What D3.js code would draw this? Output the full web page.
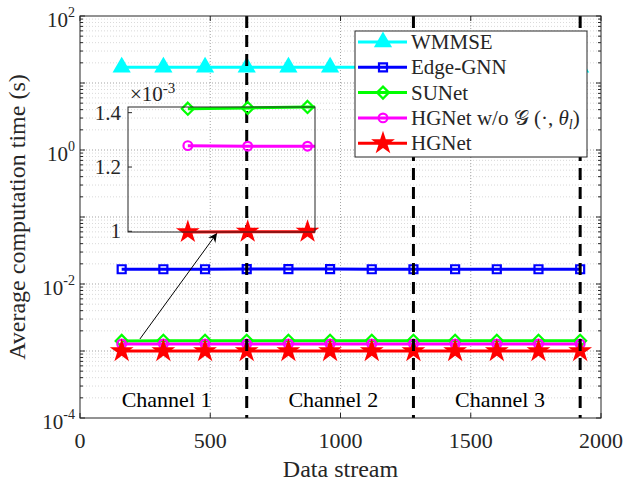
<!DOCTYPE html>
<html lang="en">
<head>
<meta charset="UTF-8">
<title>Average computation time vs data stream</title>
<script src="https://d3js.org/d3.v7.min.js"></script>
<style>
  body { margin: 0; background: #fff; }
  text { font-family: "Liberation Serif", "Times New Roman", serif; fill: #262626; }
</style>
</head>
<body>
<div id="chart"></div>
<script>

// data
var streamX   = [160, 320, 480, 640, 800, 960, 1120, 1280, 1440, 1600, 1760, 1920];
var wmmse     = [17.2, 17.2, 17.2, 17.2, 17.2, 17.2, 17.2, 17.2, 17.2, 17.2, 17.2, 17.2];
var edgeGnn   = [0.0166, 0.0166, 0.0166, 0.0167, 0.0167, 0.0167, 0.0166, 0.0166, 0.0166, 0.0166, 0.0166, 0.0166];
var sunet     = [1.416e-3, 1.419e-3, 1.423e-3, 1.422e-3, 1.421e-3, 1.422e-3, 1.421e-3, 1.420e-3, 1.421e-3, 1.421e-3, 1.420e-3, 1.421e-3];
var hgnetWo   = [1.275e-3, 1.273e-3, 1.273e-3, 1.273e-3, 1.274e-3, 1.273e-3, 1.273e-3, 1.274e-3, 1.273e-3, 1.273e-3, 1.273e-3, 1.273e-3];
var hgnet     = [0.998e-3, 0.999e-3, 0.999e-3, 0.999e-3, 0.999e-3, 0.999e-3, 0.999e-3, 0.999e-3, 0.999e-3, 0.999e-3, 0.999e-3, 0.999e-3];
var seriesNames = ["WMMSE", "Edge-GNN", "SUNet", "HGNet w/o", "HGNet"];
var xTicks = [0, 500, 1000, 1500, 2000];
var yTickExp = [2, 0, -2, -4];
var channelBounds = [640, 1280, 1920];
var channelLabels = ["Channel 1", "Channel 2", "Channel 3"];
var channelLabelX = [160, 800, 1440];
var insetTicks = [1e-3, 1.2e-3, 1.4e-3];
var insetTickLabels = ["1", "1.2", "1.4"];
var arrowFrom = [230, 1.51e-3], arrowTo = [526, 0.0577];

var W = 626, H = 483;
var margin = {top: 16, right: 25, bottom: 65, left: 80};
var width = W - margin.left - margin.right;
var height = H - margin.top - margin.bottom;

var svg = d3.select("#chart").append("svg")
    .attr("width", W).attr("height", H);

var g = svg.append("g").attr("transform", "translate(" + margin.left + "," + margin.top + ")");

var x = d3.scaleLinear().domain([0, 2000]).range([0, width]);
var y = d3.scaleLog().domain([1e-4, 1e2]).range([height, 0]);

var series = [
  {name: seriesNames[0], vals: wmmse,   color: "#00ffff", shape: "tri",     fill: true},
  {name: seriesNames[1], vals: edgeGnn, color: "#0000ff", shape: "square",  fill: false},
  {name: seriesNames[2], vals: sunet,   color: "#00ff00", shape: "diamond", fill: false},
  {name: seriesNames[3], vals: hgnetWo, color: "#ff00ff", shape: "circle",  fill: false},
  {name: seriesNames[4], vals: hgnet,   color: "#ff0000", shape: "star",    fill: true}
];

// marker shapes
function markerPath(shape) {
  if (shape == "tri") return d3.symbol(d3.symbolTriangle, 90)();
  if (shape == "square") return d3.symbol(d3.symbolSquare, 64)();
  if (shape == "circle") return d3.symbol(d3.symbolCircle, 60)();
  if (shape == "star") return d3.symbol(d3.symbolStar, 90)();
  if (shape == "diamond") return "M0,-6L6,0L0,6L-6,0Z";
}

// minor grid
var minorVals = [];
for (var e = -4; e < 2; e++) for (var m = 2; m <= 9; m++) minorVals.push(m * Math.pow(10, e));

g.append("g").selectAll("line").data(minorVals).join("line")
    .attr("x1", 0).attr("x2", width)
    .attr("y1", d => y(d)).attr("y2", d => y(d))
    .attr("stroke", "#c8c8c8").attr("stroke-width", 0.7).attr("stroke-dasharray", "1,2");

g.append("g").selectAll("line").data(d3.range(-3, 2)).join("line")
    .attr("x1", 0).attr("x2", width)
    .attr("y1", d => y(Math.pow(10, d))).attr("y2", d => y(Math.pow(10, d)))
    .attr("stroke", "#999").attr("stroke-width", 0.9).attr("stroke-dasharray", "1,2");

g.append("g").selectAll("line").data(xTicks.slice(1, -1)).join("line")
    .attr("x1", d => x(d)).attr("x2", d => x(d))
    .attr("y1", 0).attr("y2", height)
    .attr("stroke", "#999").attr("stroke-width", 0.9).attr("stroke-dasharray", "1,2");

// series
var line = d3.line().x((d, i) => x(streamX[i])).y(d => y(d));

series.forEach(function(s) {
  g.append("path").datum(s.vals)
    .attr("d", line)
    .attr("fill", "none").attr("stroke", s.color).attr("stroke-width", 3);
  g.append("g").selectAll("path").data(s.vals).join("path")
    .attr("transform", (d, i) => "translate(" + x(streamX[i]) + "," + y(d) + ")")
    .attr("d", markerPath(s.shape))
    .attr("fill", s.fill ? s.color : "none")
    .attr("stroke", s.color).attr("stroke-width", 2.2);
});

// channel boundaries
g.append("g").selectAll("line").data(channelBounds).join("line")
    .attr("x1", d => x(d)).attr("x2", d => x(d))
    .attr("y1", 0).attr("y2", height)
    .attr("stroke", "#000").attr("stroke-width", 3).attr("stroke-dasharray", "12,7");

g.append("g").selectAll("text").data(channelLabels).join("text")
    .attr("x", (d, i) => x(channelLabelX[i]))
    .attr("y", y(1.45e-4))
    .style("font-size", "22px").style("fill", "#000")
    .text(d => d);

// axes box and ticks
g.append("rect").attr("width", width).attr("height", height)
    .attr("fill", "none").attr("stroke", "#262626").attr("stroke-width", 1);

var ticksG = g.append("g").attr("stroke", "#262626").attr("stroke-width", 1);
xTicks.forEach(function(t) {
  ticksG.append("line").attr("x1", x(t)).attr("x2", x(t)).attr("y1", height).attr("y2", height - 5);
  ticksG.append("line").attr("x1", x(t)).attr("x2", x(t)).attr("y1", 0).attr("y2", 5);
});
d3.range(-4, 3).forEach(function(e) {
  var yy = y(Math.pow(10, e));
  ticksG.append("line").attr("x1", 0).attr("x2", 5).attr("y1", yy).attr("y2", yy);
  ticksG.append("line").attr("x1", width).attr("x2", width - 5).attr("y1", yy).attr("y2", yy);
});
minorVals.forEach(function(v) {
  ticksG.append("line").attr("x1", 0).attr("x2", 3).attr("y1", y(v)).attr("y2", y(v));
  ticksG.append("line").attr("x1", width).attr("x2", width - 3).attr("y1", y(v)).attr("y2", y(v));
});

g.append("g").selectAll("text").data(xTicks).join("text")
    .attr("x", d => x(d)).attr("y", height + 30)
    .attr("text-anchor", "middle").style("font-size", "22px")
    .text(d => d);

var yl = g.append("g").selectAll("text").data(yTickExp).join("text")
    .attr("x", -5).attr("y", d => y(Math.pow(10, d)) + 11)
    .attr("text-anchor", "end").style("font-size", "21px");
yl.append("tspan").text("10");
yl.append("tspan").attr("dy", -10).style("font-size", "14px").text(d => d);

svg.append("text")
    .attr("transform", "translate(25," + (margin.top + height / 2) + ") rotate(-90)")
    .attr("text-anchor", "middle").style("font-size", "24px")
    .text("Average computation time (s)");

svg.append("text")
    .attr("x", margin.left + width / 2).attr("y", 477)
    .attr("text-anchor", "middle").style("font-size", "24px")
    .text("Data stream");

// inset
var inset = {left: 128, top: 107, width: 187, height: 125};
var ix = d3.scaleLinear().domain([0, 500]).range([0, inset.width]);
var iy = d3.scaleLog().domain([0.998e-3, 1.4227e-3]).range([inset.height, 0]);
var ig = svg.append("g").attr("transform", "translate(" + inset.left + "," + inset.top + ")");

svg.append("defs").append("clipPath").attr("id", "insetClip")
  .append("rect").attr("x", 0).attr("y", -2).attr("width", inset.width).attr("height", inset.height + 4);

var iline = d3.line().x((d, i) => ix(streamX[i])).y(d => iy(d));
series.slice(2).forEach(function(s) {
  ig.append("path").datum(s.vals).attr("d", iline)
    .attr("clip-path", "url(#insetClip)")
    .attr("fill", "none").attr("stroke", s.color).attr("stroke-width", 3);
  ig.append("g").selectAll("path").data(s.vals.filter((d, i) => streamX[i] <= 500)).join("path")
    .attr("transform", (d, i) => "translate(" + ix(streamX[i]) + "," + iy(d) + ")")
    .attr("d", markerPath(s.shape))
    .attr("fill", s.fill ? s.color : "none")
    .attr("stroke", s.color).attr("stroke-width", 2.2);
});

ig.append("rect").attr("width", inset.width).attr("height", inset.height)
    .attr("fill", "none").attr("stroke", "#262626").attr("stroke-width", 1);

insetTicks.forEach(function(t, i) {
  ig.append("line").attr("x1", 0).attr("x2", 4).attr("y1", iy(t)).attr("y2", iy(t))
    .attr("stroke", "#262626");
  ig.append("text").attr("x", -7).attr("y", iy(t) + 7)
    .attr("text-anchor", "end").style("font-size", "21px").text(insetTickLabels[i]);
});
var mult = ig.append("text").attr("x", 2).attr("y", -6).style("font-size", "21px");
mult.append("tspan").text("\u00d710");
mult.append("tspan").attr("dy", -8).style("font-size", "15px").text("-3");

// arrow
svg.select("defs").append("marker")
    .attr("id", "arrowHead").attr("viewBox", "0 0 10 10")
    .attr("refX", 10).attr("refY", 5)
    .attr("markerWidth", 11).attr("markerHeight", 9).attr("markerUnits", "userSpaceOnUse")
    .attr("orient", "auto")
  .append("path").attr("d", "M0,0L10,5L0,10L3,5Z").attr("fill", "#000");

g.append("line")
    .attr("x1", x(arrowFrom[0])).attr("y1", y(arrowFrom[1]))
    .attr("x2", x(arrowTo[0])).attr("y2", y(arrowTo[1]))
    .attr("stroke", "#000").attr("stroke-width", 1)
    .attr("marker-end", "url(#arrowHead)");

// legend
var lg = svg.append("g").attr("transform", "translate(355,31)");
lg.append("rect").attr("width", 232).attr("height", 126)
    .attr("fill", "#fff").attr("stroke", "#262626").attr("stroke-width", 1);
series.forEach(function(s, i) {
  var yy = 11 + i * 25.3;
  lg.append("line").attr("x1", 3).attr("x2", 52).attr("y1", yy).attr("y2", yy)
    .attr("stroke", s.color).attr("stroke-width", 3);
  lg.append("path").attr("transform", "translate(28," + yy + ")")
    .attr("d", markerPath(s.shape))
    .attr("fill", s.fill ? s.color : "none")
    .attr("stroke", s.color).attr("stroke-width", 2.2);
  var t = lg.append("text").attr("x", 56).attr("y", yy + 7).style("font-size", "21px");
  t.append("tspan").text(s.name);
  if (i == 3) {
    t.append("tspan").text(" \ud835\udca2");
    t.append("tspan").text(" (\u00b7, ");
    t.append("tspan").style("font-style", "italic").text("\u03b8");
    t.append("tspan").attr("dy", 4).style("font-size", "14px").style("font-style", "italic").text("l");
    t.append("tspan").attr("dy", -4).text(")");
  }
});

</script>
</body>
</html>
